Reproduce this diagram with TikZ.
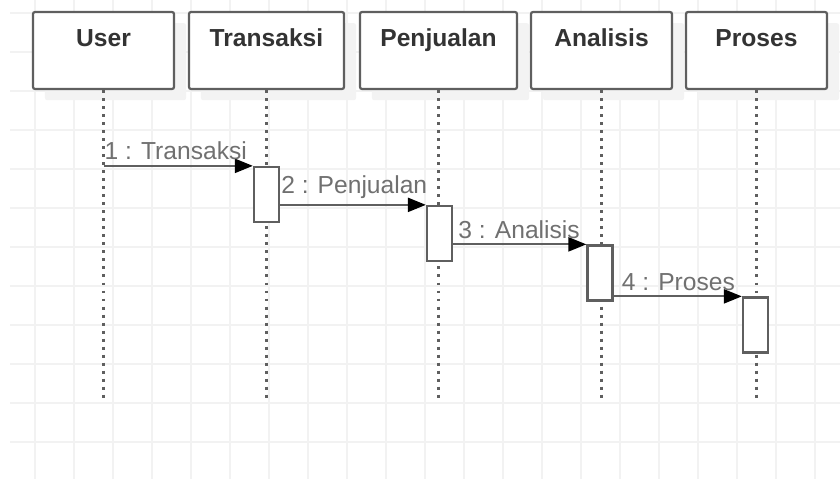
\documentclass[tikz,border=0pt]{standalone}
\usepackage{fontspec}
\setmainfont{Liberation Sans}
\usetikzlibrary{arrows.meta}
\usetikzlibrary{shadows}
\definecolor{boxgray}{HTML}{5F5F5F}
\definecolor{titlegray}{HTML}{333333}
\definecolor{labelgray}{HTML}{707070}
\definecolor{gridgray}{HTML}{F2F2F2}
\definecolor{shadowgray}{HTML}{F3F3F3}
\newcommand{\seqfont}{\fontsize{17.5}{20}\selectfont}
\tikzset{gridline/.style={color=gridgray,line width=1.3pt}}
\tikzset{lifebox/.style={draw=boxgray,line width=1.6pt,fill=white,rounded corners=1.5pt,minimum height=1.925cm,minimum width=#1,
  drop shadow={shadow xshift=0.3cm,shadow yshift=-0.28cm,fill=shadowgray,opacity=1,draw=none}},lifebox/.default=3.525cm}
\tikzset{boxtitle/.style={text=titlegray,font=\seqfont\bfseries,anchor=base,inner sep=0pt}}
\tikzset{lifeline/.style={color=boxgray,line width=1.8pt,dash pattern=on 2.1pt off 3.6pt}}
\tikzset{activation/.style={draw=boxgray,line width=1.6pt,fill=white,minimum width=0.625cm,minimum height=1.375cm,inner sep=0pt}}
\tikzset{msg/.style={color=boxgray,line width=1.6pt,-{Triangle[length=0.45cm,width=0.35cm,color=black]}}}
\tikzset{msglabel/.style={text=labelgray,font=\seqfont,anchor=south west,inner sep=0pt,yshift=3.5pt}}

\begin{document}
\begin{tikzpicture}[x=0.025cm,y=-0.025cm]
	\useasboundingbox (0,0) rectangle (840,479);
	% background grid
	\foreach \gx in {0,...,20}
		\draw [gridline] (35+39*\gx,0) -- (35+39*\gx,479);
	\foreach \gy in {0,...,11}
		\draw [gridline] (10,13+39*\gy) -- (840,13+39*\gy);

	% objects
	\node [lifebox] (user) at (103.5,50.5) {};
	\node [lifebox=3.875cm] (transaksi) at (266.5,50.5) {};
	\node [lifebox=3.925cm] (penjualan) at (438.5,50.5) {};
	\node [lifebox] (analisis) at (601.5,50.5) {};
	\node [lifebox] (proses) at (756.5,50.5) {};

	\node [boxtitle] (usertitle) at ([yshift=-0.9cm]user.north) {User};
	\node [boxtitle] (transaksititle) at ([yshift=-0.9cm]transaksi.north) {Transaksi};
	\node [boxtitle] (penjualantitle) at ([yshift=-0.9cm]penjualan.north) {Penjualan};
	\node [boxtitle] (analisistitle) at ([yshift=-0.9cm]analisis.north) {Analisis};
	\node [boxtitle] (prosestitle) at ([yshift=-0.9cm]proses.north) {Proses};

	% lifelines
	\coordinate (userend) at (user.south |- 0,400);
	\coordinate (transaksiend) at (transaksi.south |- 0,400);
	\coordinate (penjualanend) at (penjualan.south |- 0,400);
	\coordinate (analisisend) at (analisis.south |- 0,400);
	\coordinate (prosesend) at (proses.south |- 0,400);
	\draw [lifeline] (user.south) -- (userend);
	\draw [lifeline] (transaksi.south) -- (transaksiend);
	\draw [lifeline] (penjualan.south) -- (penjualanend);
	\draw [lifeline] (analisis.south) -- (analisisend);
	\draw [lifeline] (proses.south) -- (prosesend);

	% activations
	\node [activation] (act1) at (266.5,194.5) {};
	\node [activation] (act2) at (439.5,233.5) {};
	\node [activation] (act3) at (600,273) {};
	\node [activation] (act4) at (755.5,325) {};

	% messages
	\draw [msg] (user.south |- act1.north) -- node [msglabel,pos=0] {1 : Transaksi} (act1.north west);
	\draw [msg] (act1.east |- act2.north) -- node [msglabel,pos=0] {2 : Penjualan} (act2.north west);
	\draw [msg] (act2.east |- act3.north) -- node [msglabel,pos=0,xshift=3pt] {3 : Analisis} (act3.north west);
	\draw [msg] (act3.east |- act4.north) -- node [msglabel,pos=0,xshift=5pt] {4 : Proses} (act4.north west);
\end{tikzpicture}
\end{document}
